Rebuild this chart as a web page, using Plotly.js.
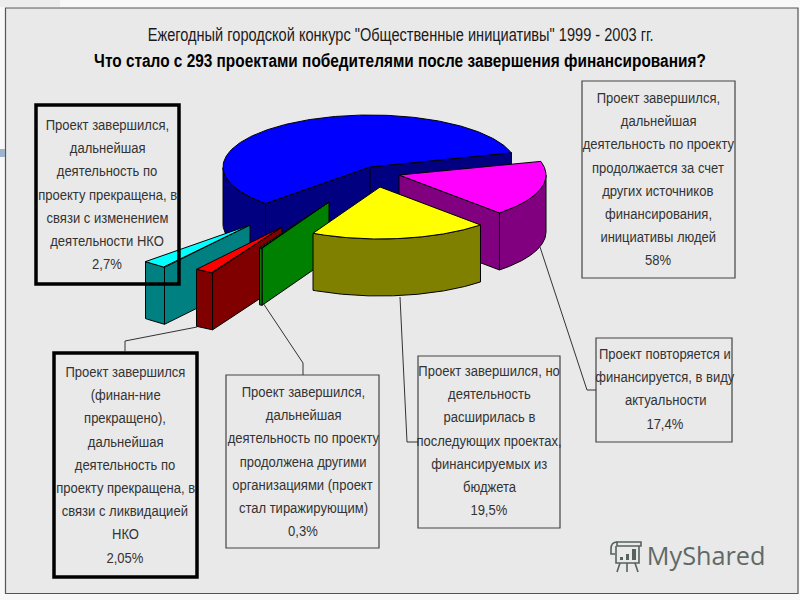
<!DOCTYPE html>
<html><head><meta charset="utf-8">
<script src="https://cdn.plot.ly/plotly-3.0.1.min.js"></script>
<style>html,body{margin:0;padding:0;background:#f8f8f8}</style></head>
<body><div id="chart" style="width:800px;height:600px"></div>
<script>
// ---- data: shares (%) clockwise from the right edge of the blue slice
const categories = ["повторяется и финансируется","расширилась в проектах","продолжена другими организациями","прекращена, ликвидация НКО","прекращена, изменение деятельности НКО","продолжается за счет других источников"];
const values = [17.4, 19.5, 0.3, 2.05, 2.7, 58];
const topColors  = ["#ff00ff","#ffff00","#00ff00","#ff0000","#00ffff","#0000ff"];
const wallColors = ["#800080","#808000","#008000","#800000","#008080","#000080"];
const explodeX = [29, 10, -41, -88, -120, 0];
const explodeY = [8, 20, 35, 60, 58, 0];
const drawOrder = [5, 4, 3, 2, 0, 1];
const startAngle = 15.8;
const centerX = 370, centerY = 167, radiusX = 147, radiusY = 52, depth = 57;

const titleLine1 = 'Ежегодный городской конкурс "Общественные инициативы" 1999 - 2003 гг.';
const titleLine2 = 'Что стало с 293 проектами победителями после завершения финансирования?';
const box58 = ["Проект завершился,","дальнейшая","деятельность по проекту","продолжается за счет","других источников","финансирования,","инициативы людей","58%"];
const box27 = ["Проект завершился,","дальнейшая","деятельность по","проекту прекращена, в","связи с изменением","деятельности НКО","2,7%"];
const box205 = ["Проект завершился","(финан-ние","прекращено),","дальнейшая","деятельность по","проекту прекращена, в","связи с ликвидацией","НКО","2,05%"];
const box03 = ["Проект завершился,","дальнейшая","деятельность по проекту","продолжена другими","организациями (проект","стал тиражирующим)","0,3%"];
const box195 = ["Проект завершился, но","деятельность","расширилась в","последующих проектах,","финансируемых из","бюджета","19,5%"];
const box174 = ["Проект повторяется и","финансируется, в виду","актуальности","17,4%"];

// ---- layout of the text boxes
const boxes = [
  {lines:box58,  x0:582,x1:735,y0:81, y1:278,cx:658,y:98, w:1.2},
  {lines:box27,  x0:36, x1:179,y0:105,y1:284,cx:107,y:125,w:3.5},
  {lines:box205, x0:54, x1:197,y0:353,y1:577,cx:125,y:372,w:3.5},
  {lines:box03,  x0:226,x1:379,y0:375,y1:548,cx:303,y:392,w:1.2},
  {lines:box195, x0:418,x1:560,y0:356,y1:528,cx:489,y:371,w:1.2},
  {lines:box174, x0:596,x1:732,y0:338,y1:442,cx:665,y:354,w:1.2}
];
const leaders = [
  "M197,327 L125,341 L125,352",
  "M263,303 L303,363 L303,375",
  "M400,297 L407,442 L418,442",
  "M540,247 L587,390 L596,390"
];

// ---- build the 3-D slices from the values
const total = values.reduce((a,b)=>a+b,0);
const traces = [];
const pt = (deg,dx,dy,down)=>[centerX+dx+radiusX*Math.cos(deg*Math.PI/180),
                              centerY+dy+down-radiusY*Math.sin(deg*Math.PI/180)];
function poly(points, fill, name){
  traces.push({type:"scatter",mode:"lines",fill:"toself",fillcolor:fill,name:name,
    x:points.map(p=>p[0]),y:points.map(p=>p[1]),
    line:{color:"#000",width:1},hoverinfo:"name",showlegend:false});
}
const ranges = [];
let cur = startAngle;
values.forEach(v=>{const sweep=v/total*360; ranges.push([cur,cur-sweep]); cur-=sweep;});

drawOrder.forEach(i=>{
  const [a1,a2]=ranges[i], dx=explodeX[i], dy=explodeY[i], name=categories[i];
  const apex=[centerX+dx,centerY+dy];
  const cutWall=(deg)=>{const r=pt(deg,dx,dy,0);
    poly([apex,r,[r[0],r[1]+depth],[apex[0],apex[1]+depth],apex],wallColors[i],name);};
  if(Math.cos(a1*Math.PI/180)<0) cutWall(a1);
  if(Math.cos(a2*Math.PI/180)>0) cutWall(a2);
  // outer rim, only the part facing the viewer
  const rim=[];
  for(let k=0;k<=200;k++){const d=a2+(a1-a2)*k/200; if(Math.sin(d*Math.PI/180)<=0) rim.push(d);}
  if(rim.length>1){
    const up=rim.map(d=>pt(d,dx,dy,0)), dn=rim.map(d=>pt(d,dx,dy,depth)).reverse();
    poly(up.concat(dn,[up[0]]),wallColors[i],name);
  }
  const top=[apex];
  for(let k=0;k<=200;k++){top.push(pt(a1+(a2-a1)*k/200,dx,dy,0));}
  top.push(apex);
  poly(top,topColors[i],name);
});

// ---- shapes and texts
const bodyFont={family:"Liberation Sans, Arial, sans-serif",size:14,color:"#333"};
const shapes=[
  {type:"rect",xref:"x",yref:"y",x0:5.5,x1:798,y0:8,y1:593.5,fillcolor:"#e9e9e9",line:{color:"#555",width:1.2},layer:"below"},
  {type:"rect",xref:"x",yref:"y",x0:0,x1:5,y0:149,y1:157,fillcolor:"#9fb3cc",line:{width:0},layer:"below"},
  {type:"rect",xref:"x",yref:"y",x0:0,x1:60,y0:0,y1:7,fillcolor:"#ececec",line:{width:0},layer:"below"}
];
boxes.forEach(b=>shapes.push({type:"rect",xref:"x",yref:"y",x0:b.x0,x1:b.x1,y0:b.y0,y1:b.y1,
  fillcolor:"rgba(0,0,0,0)",line:{color:b.w>2?"#000":"#444",width:b.w},layer:"above"}));
leaders.forEach(p=>shapes.push({type:"path",path:p,xref:"x",yref:"y",line:{color:"#333",width:1},layer:"above"}));
// watermark icon
const ic="#55625e";
[
 "M617,542 L641,542 L641,546 L617,546 Z","M617,542 Q611,542 611,549 L611,554 L615,554",
 "M616,546 L616,563 L639,563 L639,546",
 "M620,563 L617,572","M627,563 L627,572","M635,563 L638,572"
].forEach(p=>shapes.push({type:"path",path:p,xref:"x",yref:"y",line:{color:ic,width:1.6},layer:"above"}));
[[620,557,623],[626,554,629],[632,549,636]].forEach(r=>shapes.push({type:"rect",xref:"x",yref:"y",
  x0:r[0],x1:r[2],y0:r[1],y1:560,fillcolor:ic,line:{width:0},layer:"above"}));

const annotations=[];
const squeeze=[];   // horizontal text width factor per annotation
const note=(text,x,y,font,f)=>{annotations.push({text:text,x:x,y:y,xref:"x",yref:"y",showarrow:false,
   xanchor:"center",yanchor:"middle",font:font}); squeeze.push(f);};
boxes.forEach(b=>{
  b.lines.forEach((t,i)=>note(t,b.cx,b.y+i*23.2,bodyFont,0.93));
});
note(titleLine1,400,35,{family:"Liberation Sans, Arial",size:17.5,color:"#1a1a1a"},0.833);
note(titleLine2,400,61,{family:"Liberation Sans, Arial",size:17.5,weight:"bold",color:"#000"},0.879);
note("MyShared",706,555,{family:"Open Sans, sans-serif",size:26,color:"#5f6966"},0.97);

Plotly.newPlot("chart",traces,{
  width:800,height:600,autosize:false,margin:{l:0,r:0,t:0,b:0,pad:0},
  paper_bgcolor:"#f8f8f8",plot_bgcolor:"rgba(0,0,0,0)",showlegend:false,
  xaxis:{range:[0,800],visible:false,fixedrange:true},
  yaxis:{range:[600,0],visible:false,fixedrange:true},
  shapes:shapes,annotations:annotations
},{displayModeBar:false,staticPlot:true}).then(gd=>{
  // the reference uses a condensed face: narrow the real text to its widths
  gd.querySelectorAll(".annotation-text").forEach((el,i)=>{
    const f=squeeze[i]; if(!f) return;
    el.setAttribute("lengthAdjust","spacingAndGlyphs");
    el.setAttribute("textLength",(el.getComputedTextLength()*f).toFixed(1));
  });
});
</script></body></html>
